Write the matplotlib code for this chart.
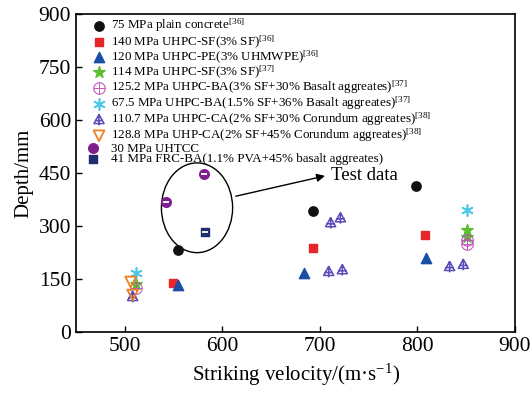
import matplotlib
matplotlib.use("Agg")
import matplotlib.pyplot as plt
from matplotlib.path import Path
from matplotlib.patches import Ellipse
from matplotlib.legend_handler import HandlerTuple
import numpy as np

plt.rcParams['font.family'] = ['Liberation Serif', 'DejaVu Serif']
plt.rcParams['mathtext.fontset'] = 'custom'
plt.rcParams['mathtext.rm'] = 'Liberation Serif'
plt.rcParams['mathtext.it'] = 'Liberation Serif:italic'

# data
pc_x = [554, 693, 799]; pc_y = [232, 342, 413]
sf140_x = [549, 693, 808]; sf140_y = [140, 239, 274]
pe_x = [554, 684, 809]; pe_y = [133, 168, 210]
sf114_x = [511, 851, 851]; sf114_y = [135, 290, 268]
ba125_x = [511, 851, 851]; ba125_y = [124, 262, 250]
ba67_x = [511, 851]; ba67_y = [166, 345]
ca110_x = [508, 711, 721, 709, 723, 833, 847]; ca110_y = [100, 309, 323, 171, 176, 185, 191]
ca128_x = [506, 508]; ca128_y = [142, 105]
uhtcc_x = [542, 581]; uhtcc_y = [367, 449]
frc_x = [582]; frc_y = [284]

labels = [
    "75 MPa plain concrete$^{[36]}$",
    "140 MPa UHPC-SF(3% SF)$^{[36]}$",
    "120 MPa UHPC-PE(3% UHMWPE)$^{[36]}$",
    "114 MPa UHPC-SF(3% SF)$^{[37]}$",
    "125.2 MPa UHPC-BA(3% SF+30% Basalt aggreates)$^{[37]}$",
    "67.5 MPa UHPC-BA(1.5% SF+36% Basalt aggreates)$^{[37]}$",
    "110.7 MPa UHPC-CA(2% SF+30% Corundum aggreates)$^{[38]}$",
    "128.8 MPa UHP-CA(2% SF+45% Corundum aggreates)$^{[38]}$",
    "30 MPa UHTCC",
    "41 MPa FRC-BA(1.1% PVA+45% basalt aggreates)",
]

# custom marker: triangle with cross
tri_cross = Path(
    [(0, 1), (-0.95, -0.7), (0.95, -0.7), (0, 1),
     (0, 1), (0, -1.05),
     (-0.75, -0.15), (0.75, -0.15)],
    [Path.MOVETO, Path.LINETO, Path.LINETO, Path.CLOSEPOLY,
     Path.MOVETO, Path.LINETO,
     Path.MOVETO, Path.LINETO])

fig = plt.figure(figsize=(5.32, 3.94), dpi=100)
ax = fig.add_axes([0.143, 0.157, 0.825, 0.807])

h = []
h.append(ax.scatter(pc_x, pc_y, marker='o', s=45, color='#111111', zorder=3))
h.append(ax.scatter(sf140_x, sf140_y, marker='s', s=40, color='#e8262a', zorder=3))
h.append(ax.scatter(pe_x, pe_y, marker='^', s=55, color='#1a4fa8', zorder=3))
h.append(ax.scatter(sf114_x, sf114_y, marker='*', s=75, color='#5cbf2e', zorder=3))
h.append(ax.scatter(ba125_x, ba125_y, marker=r'$\oplus$', s=75, color='#c04fb8', linewidths=0.3, zorder=3))
h.append(ax.scatter(ba67_x, ba67_y, marker=(6, 2, 0), s=65, color='#4cc8e6', linewidths=1.2, zorder=3))
h.append(ax.scatter(ca110_x, ca110_y, marker=tri_cross, s=65, facecolors='none',
                    edgecolors='#5a4db8', linewidths=1.1, zorder=3))
h.append(ax.scatter(ca128_x, ca128_y, marker='v', s=60, facecolors='none',
                    edgecolors='#f07f1e', linewidths=1.3, zorder=3))
u1 = ax.scatter(uhtcc_x, uhtcc_y, marker='o', s=48, color='#7d1f8c', zorder=3)
u2 = ax.scatter(uhtcc_x, uhtcc_y, marker='_', s=20, color='white', linewidths=1.3, zorder=4)
h.append((u1, u2))
f1 = ax.scatter(frc_x, frc_y, marker='s', s=40, color='#1f2f6e', zorder=3)
f2 = ax.scatter(frc_x, frc_y, marker='_', s=16, color='white', linewidths=1.3, zorder=4)
h.append((f1, f2))

leg = ax.legend(h, labels, loc='upper left', frameon=False, fontsize=9.4,
                handletextpad=0.25, labelspacing=-0.12, borderaxespad=0.0,
                handlelength=1.3, bbox_to_anchor=(0.021, 1.008),
                handler_map={tuple: HandlerTuple(ndivide=None)})

ell = Ellipse((574, 352), width=73, height=254, fill=False, edgecolor='black', linewidth=1.0, zorder=2)
ax.add_patch(ell)
ax.annotate('', xy=(708, 444), xytext=(611, 383),
            arrowprops=dict(arrowstyle='-|>', color='black', lw=1.0, mutation_scale=12))
ax.text(711, 444, 'Test data', fontsize=13.5, va='center', ha='left')

ax.set_xlim(450, 900)
ax.set_ylim(0, 900)
ax.set_xticks([500, 600, 700, 800, 900])
ax.set_yticks([0, 150, 300, 450, 600, 750, 900])
ax.tick_params(direction='in', labelsize=15.5, length=4, width=1)
for s in ax.spines.values():
    s.set_linewidth(1.2)
ax.set_xlabel('Striking velocity/(m·s$^{-1}$)', fontsize=15)
ax.set_ylabel('Depth/mm', fontsize=15)

fig.savefig('out.png', dpi=100)
